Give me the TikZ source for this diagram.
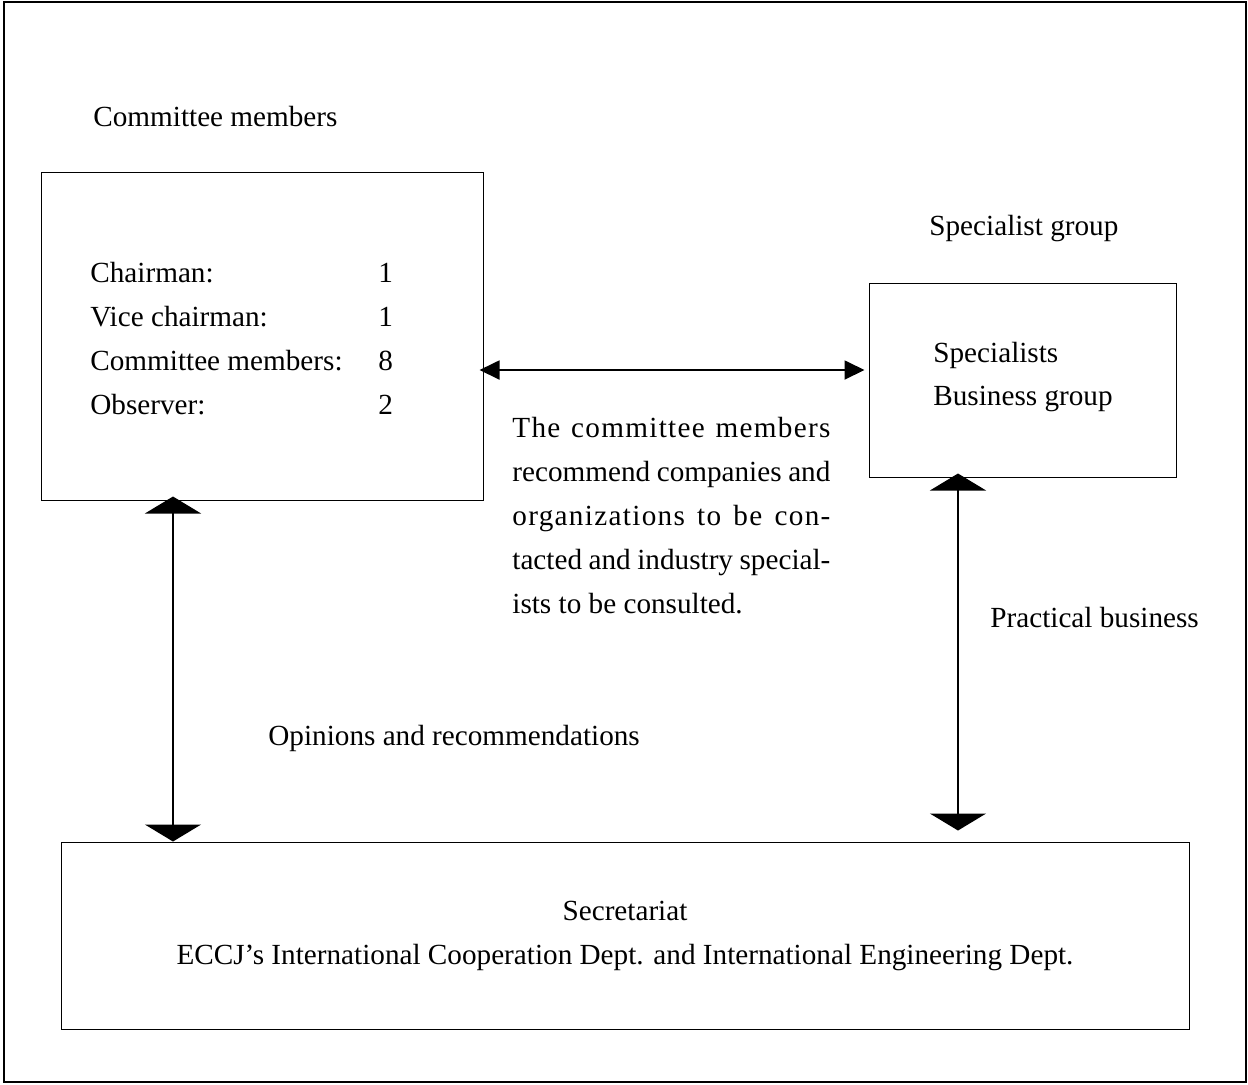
\documentclass[tikz,border=0pt]{standalone}
\usepackage{fontspec}
\setmainfont{Liberation Serif}
\usetikzlibrary{arrows.meta}

\tikzset{
  box/.style={draw, line width=0.5pt, inner sep=0pt},
  label/.style={anchor=base west, inner sep=0pt},
  bigarrow/.style={line width=1pt, {Triangle[length=8.5pt,width=28pt]}-{Triangle[length=8.5pt,width=28pt]}},
  smallarrow/.style={line width=0.9pt, {Triangle[length=10pt,width=9.5pt]}-{Triangle[length=10pt,width=9.5pt]}}
}

\begin{document}
\begin{tikzpicture}[x=0.5pt,y=-0.5pt,font=\fontsize{14.6}{22}\selectfont]
  \useasboundingbox (0,0) rectangle (1248,1084);
  \draw[line width=1.2pt] (4,2) rectangle (1246,1082);

  % boxes
  \node[box, minimum width=221pt, minimum height=164pt] (members) at (262,336) {};
  \node[box, minimum width=153.5pt, minimum height=97pt] (specialists) at (1022.5,380) {};
  \node[box, minimum width=564pt, minimum height=93.5pt, align=center] (secretariat) at (625,935.5)
    {Secretariat\\ ECCJ’s International Cooperation Dept. and International Engineering Dept.};

  % texts
  \node[label] (membersTitle) at (93,126) {Committee members};
  \node[label] (chair) at (90,282) {Chairman:};
  \node[label] (vice) at (90,326) {Vice chairman:};
  \node[label] (comm) at (90,370) {Committee members:};
  \node[label] (obs) at (90,414) {Observer:};
  \node[label] (chairN) at (378,282) {1};
  \node[label] (viceN) at (378,326) {1};
  \node[label] (commN) at (378,370) {8};
  \node[label] (obsN) at (378,414) {2};

  \node[label] (specTitle) at (929,235) {Specialist group};
  \node[label] (spec) at (933,362) {Specialists};
  \node[label] (busi) at (933,405) {Business group};

  \node[anchor=north west, inner sep=0pt, text width=159pt, align=justify] (recommend) at (512,417)
    {\tolerance=10000 {\addfontfeature{LetterSpace=4.5}The committee members}\linebreak
     recommend companies and\linebreak
     {\addfontfeature{LetterSpace=4.5}organizations to be con-}\linebreak
     tacted and industry special-\linebreak ists to be consulted.};

  \node[label] (practical) at (990,627) {Practical business};
  \node[label] (opinions) at (268,745) {Opinions and recommendations};

  % arrows
  \coordinate (opX) at (173,0);
  \coordinate (prX) at (958,0);
  \draw[smallarrow] ([xshift=-2pt,yshift=-17pt]members.east) -- ([xshift=-2pt,yshift=-17pt]members.east -| specialists.west);
  \draw[bigarrow] ([yshift=2pt]members.south -| opX) -- (secretariat.north -| opX);
  \draw[bigarrow] ([yshift=2pt]specialists.south -| prX) -- ([yshift=5.5pt]secretariat.north -| prX);
\end{tikzpicture}
\end{document}
